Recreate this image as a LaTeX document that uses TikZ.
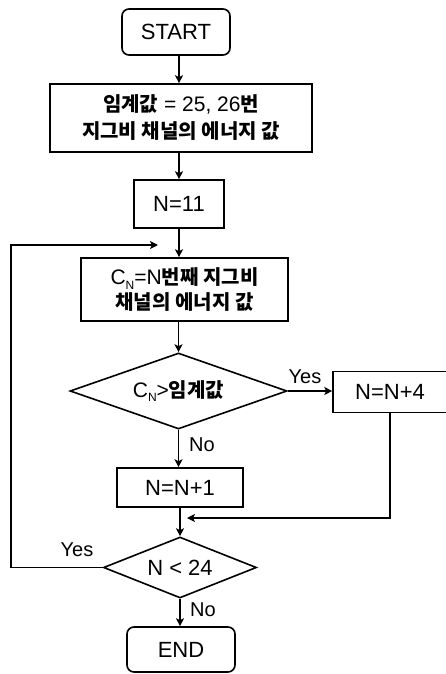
\documentclass[tikz,border=0pt]{standalone}
\usepackage{fontspec}
\setmainfont{Liberation Sans}
\newfontfamily\kr{Noto Sans CJK KR}
\usetikzlibrary{shapes.geometric,arrows.meta}
\newcommand\K[1]{{\kr\bfseries\fontsize{20}{20}\selectfont #1}}
\newcommand\Csub{C\raisebox{-0.22em}{\fontsize{12}{12}\selectfont N}}
\begin{document}
\begin{tikzpicture}[x=1pt,y=-1pt,
  box/.style={draw, line width=1.6pt, inner sep=0pt, align=center, font=\fontsize{22}{27}\selectfont},
  term/.style={box, rounded corners=7pt},
  dia/.style={draw, diamond, line width=1.6pt, inner sep=0pt, align=center, font=\fontsize{22}{24}\selectfont},
  arr/.style={line width=1.6pt, -{Stealth[length=8pt,width=8pt,inset=2pt]}},
  lbl/.style={inner sep=0pt, font=\fontsize{20}{20}\selectfont}]
\useasboundingbox (0,0) rectangle (446,674);
\fill[white] (0,0) rectangle (446,674);

\node[term, minimum width=108, minimum height=46] (start) at (176,32) {START};
\node[box, minimum width=262, minimum height=68, font=\fontsize{21}{27}\selectfont] (init) at (181,118)
  {\K{임계값} = 25, 26\K{번}\\\K{지그비 채널의 에너지 값}};
\node[box, minimum width=90, minimum height=48] (n11) at (179,204) {N=11};
\node[box, minimum width=207, minimum height=63, font=\fontsize{21}{25}\selectfont] (calc) at (184.5,289.5)
  {\Csub=N\K{번째 지그비}\\\K{채널의 에너지 값}};
\node[dia, minimum width=217, minimum height=76, aspect=2.85, font=\fontsize{21}{24}\selectfont] (d1) at (178.5,391) {\Csub>\K{임계값}};
\node[box, minimum width=114, minimum height=41] (n4) at (390,392) {N=N+4};
\node[box, minimum width=126, minimum height=39] (n1) at (180,487.5) {N=N+1};
\node[dia, minimum width=153, minimum height=61, aspect=2.5] (d2) at (180,567.5) {N < 24};
\node[term, minimum width=108, minimum height=45] (end) at (181,649.5) {END};

\coordinate (lp) at (158,245);
\coordinate (jn) at (187,518);

\draw[arr] (start.south -| n11.north) -- (n11.north |- init.north);
\draw[arr] (init.south -| n11.north) -- (n11.north);
\draw[arr] (n11.south) -- (n11.south |- calc.north);
\draw[arr] (calc.south -| d1.north) -- (d1.north);
\draw[arr] (d1.east) -- (d1.east -| n4.west);
\draw[arr] (d1.south) -- (d1.south |- n1.north);
\draw[arr] (n1.south -| d2.north) -- (d2.north);
\draw[arr] (d2.south) -- (d2.south |- end.north);
\draw[arr] (n4.south) |- (jn);
\draw[arr] (d2.west) -- ++(-92,0) |- (lp);

\node[lbl] (yes1) at (305,377) {Yes};
\node[lbl] (no1) at (202,445) {No};
\node[lbl] (yes2) at (77,550) {Yes};
\node[lbl] (no2) at (203,610) {No};
\end{tikzpicture}
\end{document}
